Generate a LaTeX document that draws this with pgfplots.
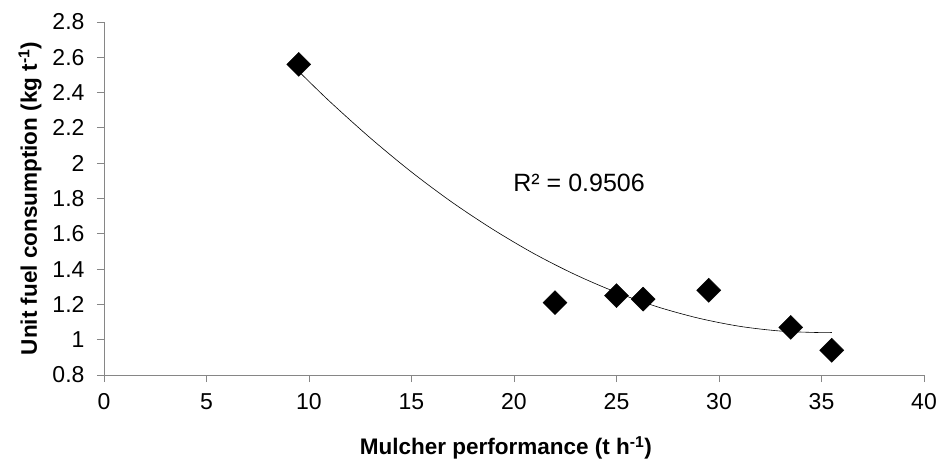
\documentclass[border=0pt]{standalone}
\usepackage{fontspec}
\setmainfont{Liberation Sans}
\usepackage{pgfplots}
\pgfplotsset{compat=1.18}
\definecolor{axgray}{RGB}{134,134,134}

\begin{document}
\begin{tikzpicture}
\useasboundingbox (-104pt,-85pt) rectangle (840pt,375pt);
\begin{axis}[
  at={(0pt,0pt)}, anchor=south west,
  scale only axis, width=820pt, height=353pt,
  xmin=0, xmax=40, ymin=0.8, ymax=2.8,
  xtick={0,5,...,40}, ytick={0.8,1,1.2,1.4,1.6,1.8,2,2.2,2.4,2.6,2.8},
  axis x line*=bottom, axis y line*=left,
  axis line style={axgray, line width=0.8pt, -},
  tick style={axgray, line width=0.8pt},
  tick align=outside, major tick length=7pt,
  /pgf/number format/assume math mode=true,
  yticklabel style={/pgf/number format/fixed, /pgf/number format/precision=1},
  tick label style={font=\fontsize{23}{25}\selectfont, black},
  xticklabel style={yshift=-8pt},
  yticklabel style={xshift=-9pt},
  xlabel={\textbf{Mulcher performance (t h\textsuperscript{-1})}},
  ylabel={\textbf{Unit fuel consumption (kg t\textsuperscript{-1})}},
  label style={font=\fontsize{22.5}{24}\selectfont},
  xlabel style={at={(axis description cs:0.49,0)}, anchor=center, yshift=-73pt},
  ylabel style={at={(axis description cs:0,0.5)}, anchor=center, yshift=74pt},
  clip=false,
]
  % quadratic trendline
  \addplot[black, line width=0.6pt, smooth, no marks] coordinates {
    (9.5,2.520) (11,2.351) (13,2.142) (15,1.950) (17,1.777) (19,1.623)
    (21,1.486) (23,1.368) (25,1.268) (27,1.186) (29,1.122) (31,1.076)
    (33,1.049) (35,1.040) (35.5,1.041)
  };
  \addplot[only marks, mark=square*, mark size=8.5pt,
           mark options={rotate=45, fill=black, draw=black}] coordinates {
    (9.5,2.56) (22,1.21) (25,1.25) (26.3,1.23) (29.5,1.28) (33.5,1.07) (35.5,0.94)
  };
  \node[anchor=west, font=\fontsize{25}{27}\selectfont] at (axis cs:19.8,1.89) {R² = 0.9506};
\end{axis}
\end{tikzpicture}
\end{document}
